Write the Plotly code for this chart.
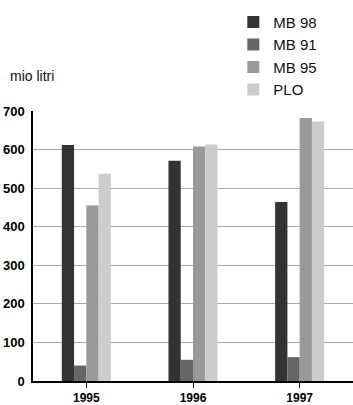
import plotly.graph_objects as go

years = ["1995", "1996", "1997"]
series_names = ["MB 98", "MB 91", "MB 95", "PLO"]
mb98 = [612, 571, 464]
mb91 = [40, 55, 62]
mb95 = [455, 608, 682]
plo = [537, 613, 673]
y_ticks = [0, 100, 200, 300, 400, 500, 600, 700]
colors = ["#333333", "#666666", "#999999", "#cccccc"]

fig = go.Figure()
for name, vals, c in zip(series_names, [mb98, mb91, mb95, plo], colors):
    fig.add_trace(go.Bar(x=years, y=vals, name=name, marker=dict(color=c, line=dict(width=0))))

fam = "Liberation Sans, Arial, sans-serif"

fig.update_layout(
    width=353, height=405,
    margin=dict(l=33, r=0, t=111, b=24),
    paper_bgcolor="white", plot_bgcolor="white",
    barmode="group", bargap=0.54, bargroupgap=0,
    showlegend=True,
    legend=dict(x=0.626, y=1.39, xanchor="left", yanchor="top",
                font=dict(family=fam, size=15, color="#111"),
                tracegroupgap=0, itemwidth=30, bgcolor="rgba(0,0,0,0)"),
    font=dict(family=fam, color="#111"),
    xaxis=dict(type="category", range=[-0.5, 2.5], showgrid=False,
               showline=True, linecolor="black", linewidth=1.5,
               ticks="outside", ticklen=5, tickcolor="black", tickwidth=1,
               tickfont=dict(family=fam, size=12, color="black", weight="bold")),
    yaxis=dict(range=[0, 700], tickvals=y_ticks, showgrid=True, gridcolor="#aaaaaa", gridwidth=1,
               zeroline=False, showline=True, linecolor="black", linewidth=1.5,
               ticks="", ticklabelstandoff=4,
               tickfont=dict(family=fam, size=13, color="black", weight="bold")),
    annotations=[dict(text="mio litri", xref="paper", yref="paper", x=-0.078, y=1.13,
                      xanchor="left", yanchor="middle", showarrow=False,
                      font=dict(family=fam, size=14, color="#111"))],
)

fig.write_html("out.html", config={"displayModeBar": False},
               post_script="document.body.style.margin='0px';")
